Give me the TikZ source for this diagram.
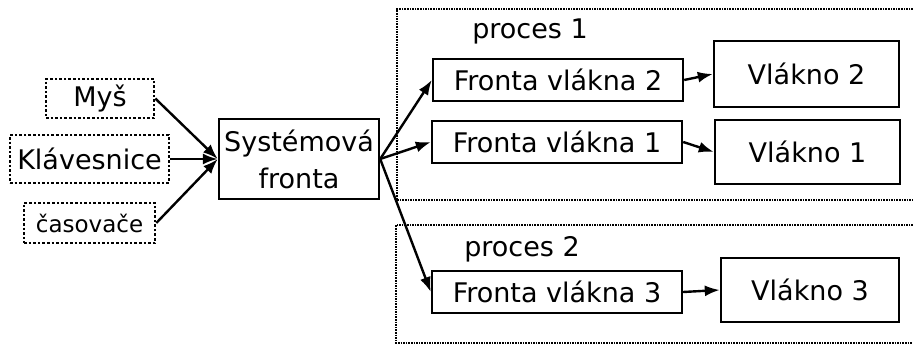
\documentclass[tikz,border=0pt]{standalone}
\usepackage{fontspec}
\setmainfont{DejaVu Sans}
\usetikzlibrary{arrows.meta}
\begin{document}
\begin{tikzpicture}[x=1pt,y=-1pt,
  every node/.style={inner sep=0pt,font=\fontsize{27}{37}\selectfont,align=center},
  srcbox/.style={draw,line width=2.6pt,dotted},
  solidbox/.style={draw,line width=2.4pt},
  procbox/.style={line width=1.6pt,densely dotted},
  arr/.style={line width=2.4pt,-{Latex[length=15pt,width=11pt]}}]
\useasboundingbox (0,0) rectangle (913,344);
% process frames (open on the right)
\draw[procbox] (913,9) -- (397,9) -- (397,200) -- (913,200);
\draw[procbox] (913,225) -- (396,225) -- (396,343) -- (913,343);
\node (p1) at (530,31) {proces 1};
\node (p2) at (522,249) {proces 2};
% sources
\node[srcbox,minimum width=108pt,minimum height=39pt] (mys) at (100,98.5) {Myš};
\node[srcbox,minimum width=159pt,minimum height=48pt] (klav) at (89.5,159) {Klávesnice};
\node[srcbox,minimum width=131pt,minimum height=40pt,font=\fontsize{23}{27}\selectfont] (cas) at (89.5,223) {časovače};
\node[solidbox,minimum width=160pt,minimum height=80pt] (sys) at (299,159) {Systémová\\fronta};
% queues and threads
\node[solidbox,minimum width=250pt,minimum height=42pt] (f2) at (558,80) {Fronta vlákna 2};
\node[solidbox,minimum width=185pt,minimum height=66pt] (v2) at (806.5,74) {Vlákno 2};
\node[solidbox,minimum width=250pt,minimum height=42pt] (f1) at (557,142) {Fronta vlákna 1};
\node[solidbox,minimum width=185pt,minimum height=64pt] (v1) at (807.5,152) {Vlákno 1};
\node[solidbox,minimum width=250pt,minimum height=42pt] (f3) at (557,292) {Fronta vlákna 3};
\node[solidbox,minimum width=178pt,minimum height=64pt] (v3) at (810,290) {Vlákno 3};
% connectors
\draw[arr] (mys.east) -- (sys.west);
\draw[arr] (klav.east) -- (sys.west);
\draw[arr] (cas.east) -- (sys.west);
\draw[arr] (sys.east) -- (f2.west);
\draw[arr] (sys.east) -- (f1.west);
\draw[arr] (sys.east) -- (f3.west);
\draw[arr] (f2.east) -- (v2.west);
\draw[arr] (f1.east) -- (v1.west);
\draw[arr] (f3.east) -- (v3.west);
\end{tikzpicture}
\end{document}
